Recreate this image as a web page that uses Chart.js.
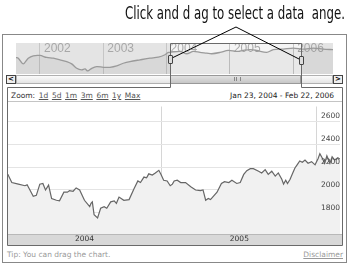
<!DOCTYPE html>
<html>
<head>
<meta charset="utf-8">
<script src="https://cdn.jsdelivr.net/npm/chart.js@4.4.0/dist/chart.umd.min.js"></script>
<style>
body{margin:0;width:350px;height:267px;background:#fff;position:relative;overflow:hidden;font-family:"DejaVu Sans",sans-serif;}
.abs{position:absolute;}
#note{left:125px;top:5px;font-size:17px;line-height:17px;font-family:"Liberation Sans Narrow","DejaVu Sans Condensed",sans-serif;white-space:pre;transform-origin:0 0;color:#111;}
#frame{left:2px;top:34px;width:345px;height:229px;border:1px solid #888;box-sizing:border-box;}
#ovwrap{left:16px;top:43px;width:317px;height:31px;}
#track{left:16px;top:75px;width:317px;height:9px;border:1px solid #b0b0b0;box-sizing:border-box;background:linear-gradient(#fbfbfb,#e4e4e4);}
#thumb{left:170px;top:75px;width:131px;height:9px;border:1px solid #999;box-sizing:border-box;background:linear-gradient(#e2e2e2,#c6c6c6);}
#grip{left:234px;top:77px;width:5px;height:4px;border-left:1px solid #888;border-right:1px solid #888;}
#grip2{left:236px;top:77px;width:1px;height:4px;background:#888;}
.arrow{top:75px;width:10px;height:9px;border:1px solid #444;box-sizing:border-box;background:#eee;font:bold 7px/7px "DejaVu Sans",sans-serif;text-align:center;color:#000;}
.handle{width:5px;height:9px;border:1px solid #444;box-sizing:border-box;background:#ddd;border-radius:1px;}
#header{left:11px;top:91px;font-size:7.5px;line-height:9px;color:#333;white-space:nowrap;}
#header span{color:#555;text-decoration:underline;margin-left:3.6px;}
#range{right:16px;top:91px;font-size:7.5px;line-height:9px;color:#222;white-space:nowrap;}
#mainwrap{left:7px;top:101px;width:335px;height:144px;border-top:1px solid #c4c4c4;box-sizing:border-box;}
#tip{left:7px;top:250px;font-size:7.5px;line-height:9px;color:#999;white-space:nowrap;}
#disc{right:7px;top:250px;font-size:7.5px;line-height:9px;color:#999;text-decoration:underline;white-space:nowrap;}
svg{position:absolute;left:0;top:0;}
</style>
</head>
<body>
<div id="frame" class="abs"></div>
<div id="ovwrap" class="abs"><canvas id="overview"></canvas></div>
<div id="track" class="abs"></div>
<div id="thumb" class="abs"></div>
<div id="grip" class="abs"></div>
<div id="grip2" class="abs"></div>
<div class="abs arrow" style="left:6px">&lt;</div>
<div class="abs arrow" style="left:333px">&gt;</div>
<div id="header" class="abs">Zoom:<span>1d</span><span>5d</span><span>1m</span><span>3m</span><span>6m</span><span>1y</span><span>Max</span></div>
<div id="range" class="abs">Jan 23, 2004 - Feb 22, 2006</div>
<div id="mainwrap" class="abs"><canvas id="mainChart"></canvas></div>
<div id="tip" class="abs">Tip: You can drag the chart.</div>
<div id="disc" class="abs">Disclaimer</div>
<svg width="350" height="267">
  <path d="M7.5,245.5 V87.5 H170.5 V43.5 H301.5 V87.5 H342.5 V245.5 Z" fill="none" stroke="#6a6a6a" stroke-width="1"/>
  <line x1="236" y1="27" x2="172" y2="58" stroke="#000" stroke-width="1"/>
  <line x1="236" y1="27" x2="299" y2="59" stroke="#000" stroke-width="1"/>
</svg>
<div class="abs handle" style="left:168px;top:55px"></div>
<div class="abs handle" style="left:299px;top:56px"></div>
<div id="note" class="abs">Click and d ag to select a data  ange.</div>

<script>
// overview strip (decimal years, index level)
const ovYears = [2002, 2003, 2004, 2005, 2006];
const ovX = [2001.62, 2001.657, 2001.736, 2001.815, 2001.894, 2002.0, 2002.106, 2002.21, 2002.316, 2002.422,
  2002.501, 2002.58, 2002.659, 2002.711, 2002.754, 2002.817, 2002.896, 2003.0, 2003.106, 2003.212,
  2003.316, 2003.422, 2003.58, 2003.738, 2003.869, 2003.975, 2004.027, 2004.054, 2004.212, 2004.318,
  2004.422, 2004.528, 2004.634, 2004.713, 2004.844, 2004.975, 2005.108, 2005.212, 2005.318, 2005.423,
  2005.581, 2005.686, 2005.844, 2006.002, 2006.16, 2006.318, 2006.476, 2006.629];
const ovY = [1880, 1841, 1510, 1841, 1982, 2000, 1882, 1841, 1746, 1646,
  1510, 1251, 1156, 1215, 1097, 1251, 1351, 1310, 1310, 1392,
  1546, 1646, 1746, 1841, 1900, 2041, 2177, 2177, 2236, 2100,
  2236, 2177, 2136, 2100, 2177, 2295, 2236, 2295, 2336, 2295,
  2177, 2336, 2372, 2431, 2372, 2431, 2372, 2336];
const selStart = 2004.06;
const selEnd = 2006.142;

// main chart (days since Jan 23, 2004)
const yearDays = [354, 707];          // year boundaries (grid lines)
const yearMidDays = [177, 531];       // where the year names sit
const mainYearLabels = ['2004', '2005'];
const yTicks = [1800, 2000, 2200, 2400, 2600];
const dayX = [0, 2, 11, 26, 41, 46, 60, 67, 75, 82, 88, 95, 102, 113, 120, 130, 138, 143, 151, 158,
  166, 177, 189, 192, 195, 199, 207, 214, 222, 228, 237, 245, 250, 256, 267, 279, 290, 299, 305, 313,
  319, 324, 332, 339, 347, 352, 358, 366, 373, 378, 382, 389, 397, 408, 420, 431, 442, 448, 454, 460,
  465, 470, 480, 490, 497, 507, 514, 525, 533, 541, 548, 556, 563, 575, 582, 590, 597, 605, 613, 620,
  628, 632, 637, 641, 647, 653, 658, 663, 669, 675, 681, 688, 696, 704, 711, 715, 721, 726, 731, 738,
  743, 749, 756, 761];
const closeY = [2140, 2136, 2065, 2051, 2037, 2045, 1944, 1953, 2051, 2057, 2000, 2043, 1925, 1910, 1905, 1981, 1981, 1995, 1989, 2018,
  2000, 1910, 1854, 1883, 1896, 1784, 1756, 1840, 1854, 1840, 1896, 1905, 1883, 1938, 1910, 1916, 2009, 2079, 2065, 2113,
  2107, 2141, 2130, 2149, 2172, 2136, 2085, 2079, 2037, 2051, 2079, 2085, 2065, 2065, 2029, 2000, 1995, 2000, 1910, 1925,
  1916, 1938, 1981, 2057, 2073, 2065, 2085, 2057, 2065, 2136, 2169, 2186, 2186, 2164, 2149, 2178, 2136, 2164, 2121, 2149,
  2094, 2051, 2085, 2057, 2094, 2149, 2192, 2220, 2254, 2243, 2262, 2234, 2248, 2220, 2276, 2318, 2276, 2234, 2299, 2234,
  2290, 2262, 2282, 2270];

const note = document.getElementById('note');
note.style.transform = 'scaleX(' + (220 / note.getBoundingClientRect().width) + ')';

const uiFont = {family: 'DejaVu Sans', size: 7.5, lineHeight: 1.2};

const ovBack = {
    id: 'ovBack',
    beforeDraw(chart) {
        const a = chart.chartArea, xs = chart.scales.x, c = chart.ctx;
        c.save();
        c.fillStyle = '#e4e4e4';
        c.fillRect(a.left, a.top, a.width, a.height);
        c.fillStyle = '#f5f5f5';
        const x0 = xs.getPixelForValue(selStart), x1 = xs.getPixelForValue(selEnd);
        c.fillRect(x0, a.top, x1 - x0, a.height);
        c.restore();
    }
};

new Chart(document.getElementById('overview'), {
    type: 'line',
    data: {
        datasets: [{
            data: ovX.map((x, i) => ({x: x, y: ovY[i]})),
            borderColor: '#9a9a9a',
            borderWidth: 1.3,
            backgroundColor: 'rgba(0,0,0,0.05)',
            fill: 'start',
            pointRadius: 0,
            tension: 0.3
        }]
    },
    options: {
        responsive: true,
        maintainAspectRatio: false,
        animation: false,
        layout: {padding: 0, autoPadding: false},
        plugins: {legend: {display: false}, tooltip: {enabled: false}},
        scales: {
            x: {
                type: 'linear', position: 'top', min: 2001.621, max: 2006.629,
                afterBuildTicks: s => { s.ticks = ovYears.map(v => ({value: v})); },
                ticks: {
                    mirror: true, align: 'start', labelOffset: 4, padding: 0,
                    maxRotation: 0, autoSkip: false,
                    font: {family: 'Liberation Sans', size: 12, lineHeight: 1},
                    color: '#a8a8a8',
                    callback: v => String(v)
                },
                grid: {color: '#c6c6c6', drawTicks: false},
                border: {display: false}
            },
            y: {display: false, min: 920, max: 2726}
        }
    },
    plugins: [ovBack]
});

const band = {
    id: 'band',
    beforeDraw(chart) {
        const s = chart.scales.x, c = chart.ctx;
        c.save();
        c.fillStyle = '#d8d8d8';
        c.fillRect(0, s.top, chart.width, s.height);
        c.strokeStyle = '#b8b8b8';
        c.beginPath();
        c.moveTo(0, s.top + 0.5);
        c.lineTo(chart.width, s.top + 0.5);
        c.stroke();
        c.restore();
    }
};

const xTickValues = yearMidDays.concat(yearDays).sort((a, b) => a - b);

new Chart(document.getElementById('mainChart'), {
    type: 'line',
    data: {
        datasets: [{
            data: dayX.map((d, i) => ({x: d, y: closeY[i]})),
            borderColor: '#666',
            borderWidth: 1.2,
            backgroundColor: '#f1f1f1',
            fill: 'start',
            pointRadius: 0,
            tension: 0
        }]
    },
    options: {
        responsive: true,
        maintainAspectRatio: false,
        animation: false,
        layout: {padding: {left: 0, top: 0, bottom: 0, right: 2}, autoPadding: false},
        plugins: {legend: {display: false}, tooltip: {enabled: false}},
        scales: {
            x: {
                type: 'linear', position: 'bottom', min: 0, max: 761,
                afterBuildTicks: s => { s.ticks = xTickValues.map(v => ({value: v})); },
                ticks: {
                    callback: v => {
                        const i = yearMidDays.indexOf(v);
                        return i < 0 ? '' : mainYearLabels[i];
                    },
                    padding: 1, maxRotation: 0, autoSkip: false,
                    font: uiFont, color: '#333'
                },
                grid: {
                    color: ctx => (ctx.tick && yearDays.includes(ctx.tick.value)) ? '#d6d6d6' : 'rgba(0,0,0,0)',
                    drawTicks: false
                },
                border: {display: false}
            },
            y: {
                position: 'right', min: 1615, max: 2730,
                afterBuildTicks: s => { s.ticks = yTicks.map(v => ({value: v})); },
                ticks: {
                    mirror: true, padding: 0, labelOffset: -5, z: 1,
                    font: uiFont, color: '#444',
                    callback: v => String(v)
                },
                grid: {color: '#e4e4e4', drawTicks: false},
                border: {display: false}
            }
        }
    },
    plugins: [band]
});
</script>
</body>
</html>
